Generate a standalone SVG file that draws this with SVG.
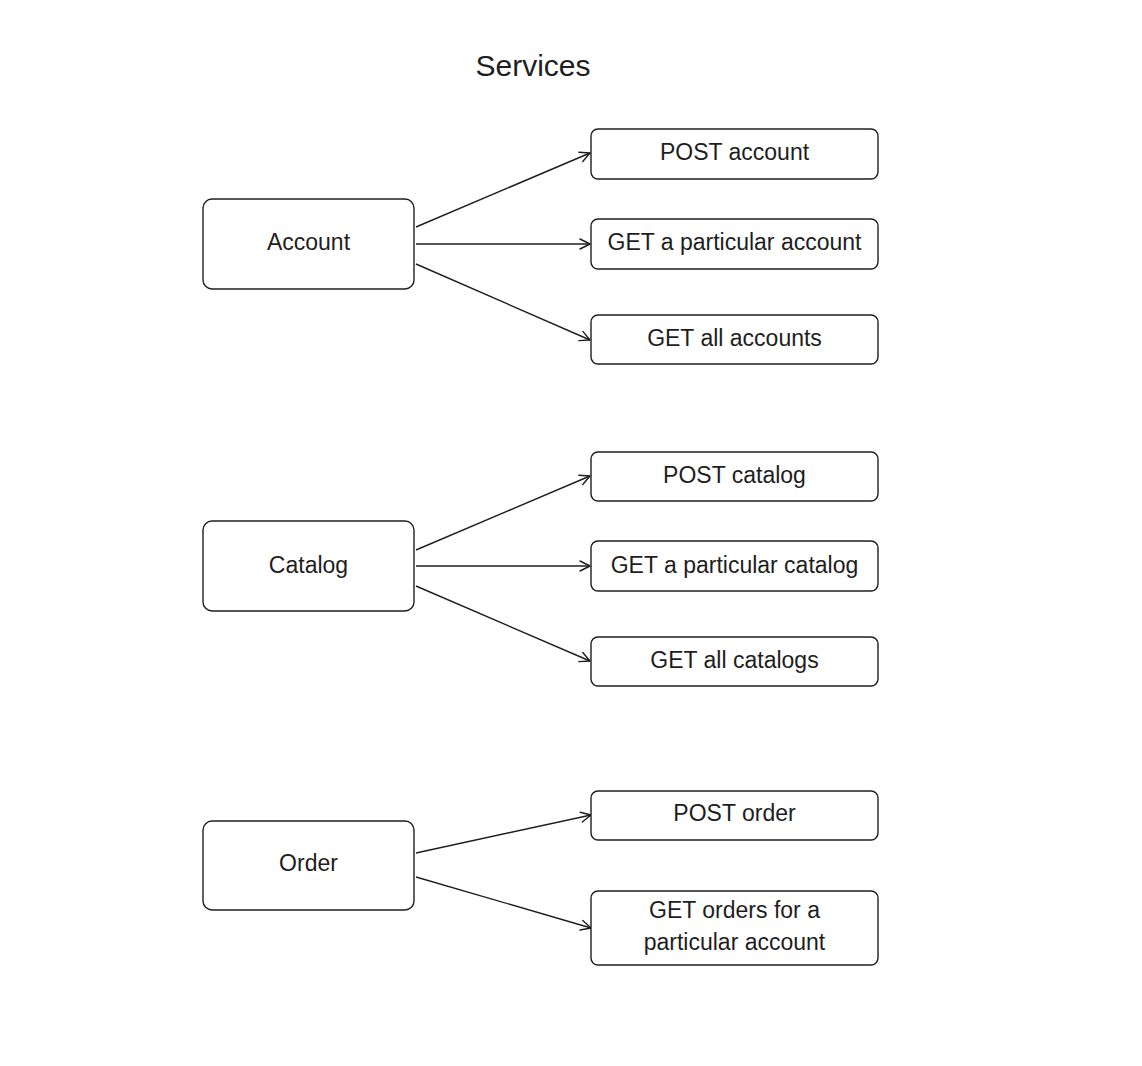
<svg xmlns="http://www.w3.org/2000/svg" width="1142" height="1066" viewBox="0 0 1142 1066">
<defs>
<marker id="arr" viewBox="0 0 12 12" refX="11" refY="6" markerWidth="12" markerHeight="12" markerUnits="userSpaceOnUse" orient="auto">
<path d="M1,1 L11,6 L1,11" fill="none" stroke="#1e1e1e" stroke-width="1.4" stroke-linecap="round" stroke-linejoin="round"/>
</marker>
</defs>
<style>
.box{fill:#ffffff;stroke:#1e1e1e;stroke-width:1.4}
.t{font-family:"Liberation Sans",Arial,sans-serif;font-size:23px;fill:#1e1e1e;text-anchor:middle;dominant-baseline:central}
.title{font-family:"Liberation Sans",Arial,sans-serif;font-size:30px;fill:#1e1e1e;text-anchor:middle;dominant-baseline:central}
.c{fill:none;stroke:#1e1e1e;stroke-width:1.4;marker-end:url(#arr)}
</style>
<rect width="1142" height="1066" fill="#ffffff"/>
<text class="title" x="533" y="65">Services</text>
<g id="connectors">
<line class="c" x1="416" y1="227" x2="590" y2="153"/>
<line class="c" x1="416" y1="244" x2="590" y2="244"/>
<line class="c" x1="416" y1="264" x2="590" y2="340"/>
<line class="c" x1="416" y1="550" x2="590" y2="476"/>
<line class="c" x1="416" y1="566" x2="590" y2="566"/>
<line class="c" x1="416" y1="586" x2="590" y2="661"/>
<line class="c" x1="416" y1="853" x2="591" y2="815"/>
<line class="c" x1="416" y1="877" x2="591" y2="928"/>
</g>
<g id="account"><rect class="box" x="203" y="199" width="211" height="90" rx="9"/><text class="t" x="308.500" y="242">Account</text></g>
<g id="post-account"><rect class="box" x="591" y="129" width="287" height="50" rx="7"/><text class="t" x="734.500" y="152">POST account</text></g>
<g id="get-particular-account"><rect class="box" x="591" y="219" width="287" height="50" rx="7"/><text class="t" x="734.500" y="242">GET a particular account</text></g>
<g id="get-all-accounts"><rect class="box" x="591" y="315" width="287" height="49" rx="7"/><text class="t" x="734.500" y="338">GET all accounts</text></g>
<g id="catalog"><rect class="box" x="203" y="521" width="211" height="90" rx="9"/><text class="t" x="308.500" y="565">Catalog</text></g>
<g id="post-catalog"><rect class="box" x="591" y="452" width="287" height="49" rx="7"/><text class="t" x="734.500" y="475">POST catalog</text></g>
<g id="get-particular-catalog"><rect class="box" x="591" y="541" width="287" height="50" rx="7"/><text class="t" x="734.500" y="565">GET a particular catalog</text></g>
<g id="get-all-catalogs"><rect class="box" x="591" y="637" width="287" height="49" rx="7"/><text class="t" x="734.500" y="660">GET all catalogs</text></g>
<g id="order"><rect class="box" x="203" y="821" width="211" height="89" rx="9"/><text class="t" x="308.500" y="863">Order</text></g>
<g id="post-order"><rect class="box" x="591" y="791" width="287" height="49" rx="7"/><text class="t" x="734.500" y="813">POST order</text></g>
<g id="get-orders"><rect class="box" x="591" y="891" width="287" height="74" rx="7"/><text class="t" x="734.500" y="910">GET orders for a</text><text class="t" x="734.500" y="942">particular account</text></g>
</svg>
